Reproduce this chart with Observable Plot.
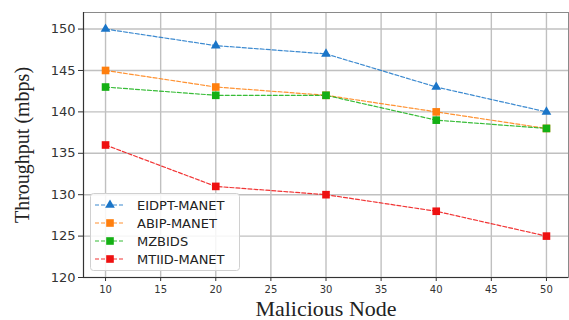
<!DOCTYPE html>
<html>
<head>
<meta charset="utf-8">
<script src="https://cdn.jsdelivr.net/npm/d3@7"></script>
<script src="https://cdn.jsdelivr.net/npm/@observablehq/plot@0.6"></script>
<style>
  html, body { margin: 0; padding: 0; background: white; }
</style>
</head>
<body>
<div id="chart"></div>
<script>
const nodes = [10, 20, 30, 40, 50];
const seriesNames = ["EIDPT-MANET", "ABIP-MANET", "MZBIDS", "MTIID-MANET"];
const eidpt = [150, 148, 147, 143, 140];
const abip = [145, 143, 142, 140, 138];
const mzbids = [143, 142, 142, 139, 138];
const mtiid = [136, 131, 130, 128, 125];
const xTicks = [10, 15, 20, 25, 30, 35, 40, 45, 50];
const yTicks = [120, 125, 130, 135, 140, 145, 150];

const colors = ["#1a75c8", "#ff7f0e", "#14b014", "#ee1111"];
const symbols = ["triangle", "square", "square", "square"];

const allValues = [eidpt, abip, mzbids, mtiid];
const data = [];
seriesNames.forEach((s, i) => {
  nodes.forEach((n, j) => data.push({series: s, node: n, value: allValues[i][j]}));
});

const plot = Plot.plot({
  width: 569,
  height: 320,
  marginLeft: 83,
  marginRight: 1,
  marginTop: 12,
  marginBottom: 43,
  style: {fontFamily: "DejaVu Sans", background: "white", color: "#333"},
  x: {domain: [8, 52]},
  y: {domain: [120, 152]},
  color: {domain: seriesNames, range: colors},
  symbol: {domain: seriesNames, range: symbols},
  marks: [
    Plot.gridX(xTicks, {stroke: "#c0c0c0", strokeOpacity: 1, strokeWidth: 1.4}),
    Plot.gridY(yTicks, {stroke: "#c0c0c0", strokeOpacity: 1, strokeWidth: 1.4}),
    Plot.frame({stroke: "#8a8a8a"}),
    Plot.ruleX([8], {stroke: "#333", strokeWidth: 1.2}),
    Plot.ruleY([120], {stroke: "#333", strokeWidth: 1.2}),
    Plot.axisX(xTicks, {tickSize: 4, tickPadding: 4, fontSize: 10, label: null, stroke: "#333"}),
    Plot.axisY(yTicks, {tickSize: 5, tickPadding: 3, fontSize: 13, label: null, stroke: "#333"}),
    Plot.line(data, {x: "node", y: "value", stroke: "series", z: "series", strokeDasharray: "4,2", strokeWidth: 1.2, strokeOpacity: 0.85}),
    Plot.dot(data.filter(d => d.series === "EIDPT-MANET"), {x: "node", y: "value", symbol: "series", fill: "series", r: 3.6}),
    Plot.dot(data.filter(d => d.series !== "EIDPT-MANET"), {x: "node", y: "value", symbol: "series", fill: "series", r: 4.3}),
    Plot.text(["Malicious Node"], {frameAnchor: "bottom", dy: 31, lineAnchor: "middle", textAnchor: "middle", fontSize: 22, fontFamily: "Liberation Serif", fill: "#222"}),
    Plot.text(["Throughput (mbps)"], {frameAnchor: "left", dx: -61, rotate: -90, lineAnchor: "middle", textAnchor: "middle", fontSize: 20, fontFamily: "Liberation Serif", fill: "#222"})
  ]
});

document.getElementById("chart").appendChild(plot);

// Legend
const svg = d3.select(plot);
const lg = svg.append("g").attr("font-family", "DejaVu Sans").attr("font-size", 13).attr("text-anchor", "start");
lg.append("rect")
  .attr("x", 90.5).attr("y", 193.5).attr("width", 149).attr("height", 77)
  .attr("rx", 3).attr("fill", "white").attr("fill-opacity", 0.85)
  .attr("stroke", "#d0d0d0");
const rowY = [205, 223, 241, 259];
seriesNames.forEach((s, i) => {
  const y = rowY[i];
  lg.append("line").attr("x1", 95).attr("x2", 124).attr("y1", y).attr("y2", y)
    .attr("stroke", colors[i]).attr("stroke-width", 1.2).attr("stroke-dasharray", "4,2").attr("stroke-opacity", 0.85);
  const sym = symbols[i] === "triangle" ? d3.symbolTriangle : d3.symbolSquare;
  const r = symbols[i] === "triangle" ? 3.6 : 4.3;
  lg.append("path").attr("d", d3.symbol(sym, r * r * Math.PI)())
    .attr("transform", `translate(110,${y})`).attr("fill", colors[i]);
  lg.append("text").attr("x", 137).attr("y", y).attr("dy", "0.35em").attr("text-anchor", "start").attr("fill", "#222").text(s);
});
</script>
</body>
</html>
